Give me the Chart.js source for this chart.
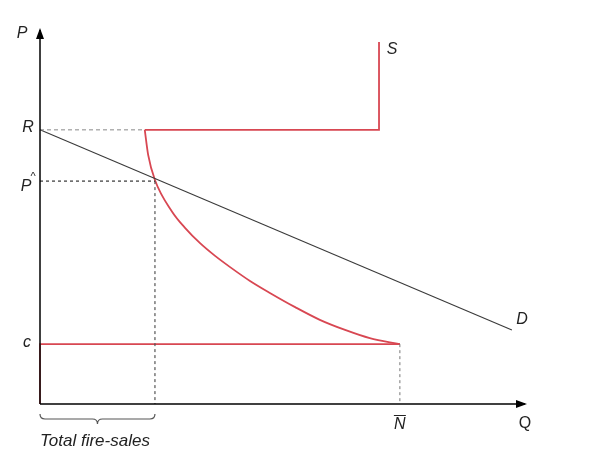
<!DOCTYPE html>
<html>
<head>
<meta charset="utf-8">
<script src="https://cdn.jsdelivr.net/npm/chart.js@4"></script>
<style>
    html, body { margin: 0; padding: 0; background: #fff; }
    #wrap { width: 600px; height: 464px; }
</style>
</head>
<body>
<div id="wrap"><canvas id="chart" width="600" height="464"></canvas></div>
<script>
// key levels (abstract units, 0..10 on both axes)
const priceR = 7.33;
const priceStar = 5.96;
const priceC = 1.6;
const qStar = 2.37;
const qBar = 7.42;
const qSupplyKink = 2.16;
const qSupplyCap = 6.99;
const supplyTop = 9.68;

// fire-sale supply curve between c and R
const curveQ = [2.16, 2.23, 2.37, 2.72, 2.99, 3.3, 3.61, 3.92, 4.33, 4.74, 5.26, 5.77, 6.29, 6.8, 7.42];
const curveP = [7.33, 6.66, 5.99, 5.15, 4.71, 4.3, 3.96, 3.66, 3.29, 2.97, 2.59, 2.25, 1.98, 1.76, 1.6];

// demand line end points
const demandQ = [0, 9.73];
const demandP = [7.33, 1.98];

const axisMax = 10;

const red = '#d84752';
const dark = '#3a3a3a';

function pts(xs, ys) {
    return xs.map(function (x, i) { return { x: x, y: ys[i] }; });
}

function lineSet(data, color, width, dash, extra) {
    return Object.assign({
        data: data,
        showLine: true,
        borderColor: color,
        borderWidth: width,
        borderDash: dash || [],
        pointRadius: 0,
        fill: false,
        clip: false,
        tension: 0
    }, extra || {});
}

const datasets = [
    // axes
    lineSet(pts([0, 0], [0, axisMax]), '#000', 1.5),
    lineSet(pts([0, axisMax], [0, 0]), '#000', 1.5),
    // guide lines
    lineSet(pts([0, qSupplyKink], [priceR, priceR]), '#888', 1, [4, 3]),
    lineSet(pts([0, qStar], [priceStar, priceStar]), '#333', 1.2, [3, 3]),
    lineSet(pts([qStar, qStar], [priceStar, 0]), '#555', 1.2, [3, 3]),
    lineSet(pts([qBar, qBar], [priceC, 0]), '#777', 1, [3, 3]),
    // demand
    lineSet(pts(demandQ, demandP), dark, 1.1),
    // supply
    lineSet(pts([0, 0, qBar], [0, priceC, priceC]), red, 1.6),
    lineSet(pts(curveQ, curveP), red, 1.8, [], { cubicInterpolationMode: 'monotone' }),
    lineSet(pts([qSupplyKink, qSupplyCap, qSupplyCap], [priceR, priceR, supplyTop]), red, 1.8)
];

const annotate = {
    id: 'annotate',
    afterDatasetsDraw: function (chart) {
        const ctx = chart.ctx;
        const xs = chart.scales.x;
        const ys = chart.scales.y;
        const px = function (v) { return xs.getPixelForValue(v); };
        const py = function (v) { return ys.getPixelForValue(v); };

        ctx.save();
        // arrow heads
        ctx.fillStyle = '#000';
        const ox = px(0), oy = py(0);
        const top = py(axisMax), right = px(axisMax);
        ctx.beginPath();
        ctx.moveTo(ox, top - 2);
        ctx.lineTo(ox - 4, top + 9);
        ctx.lineTo(ox + 4, top + 9);
        ctx.closePath();
        ctx.fill();
        ctx.beginPath();
        ctx.moveTo(right + 2, oy);
        ctx.lineTo(right - 9, oy - 4);
        ctx.lineTo(right - 9, oy + 4);
        ctx.closePath();
        ctx.fill();

        // brace under total fire-sales
        const b0 = px(0), b1 = px(qStar), bm = (b0 + b1) / 2;
        const by = oy + 15, bd = 5;
        ctx.strokeStyle = '#555';
        ctx.lineWidth = 1.2;
        ctx.beginPath();
        ctx.moveTo(b0, by - bd);
        ctx.quadraticCurveTo(b0, by, b0 + bd, by);
        ctx.lineTo(bm - bd, by);
        ctx.quadraticCurveTo(bm, by, bm, by + bd);
        ctx.quadraticCurveTo(bm, by, bm + bd, by);
        ctx.lineTo(b1 - bd, by);
        ctx.quadraticCurveTo(b1, by, b1, by - bd);
        ctx.stroke();

        // text labels
        ctx.fillStyle = '#222';
        ctx.textBaseline = 'middle';
        ctx.textAlign = 'center';
        const it = 'italic 16px "Liberation Sans", Arial, sans-serif';
        ctx.font = it;
        ctx.fillText('P', 22, top + 4);
        ctx.fillText('R', ox - 12, py(priceR) - 2);
        ctx.fillText('P', ox - 14, py(priceStar) + 5);
        ctx.font = '11px "Liberation Sans", Arial, sans-serif';
        ctx.fillText('^', ox - 7, py(priceStar) - 4);
        ctx.font = it;
        ctx.fillText('c', ox - 13, py(priceC) - 2);
        ctx.fillText('S', px(qSupplyCap) + 13, py(supplyTop) + 8);
        ctx.fillText('D', px(demandQ[1]) + 10, py(demandP[1]) - 10);
        ctx.fillText('N', px(qBar), oy + 21);
        ctx.fillRect(px(qBar) - 6, oy + 11, 12, 1);
        ctx.font = '16px "Liberation Sans", Arial, sans-serif';
        ctx.fillText('Q', right, oy + 20);
        ctx.textAlign = 'left';
        ctx.font = 'italic 17px "Liberation Sans", Arial, sans-serif';
        ctx.fillText('Total fire-sales', b0, oy + 37);
        ctx.restore();
    }
};

new Chart(document.getElementById('chart'), {
    type: 'scatter',
    data: { datasets: datasets },
    options: {
        responsive: false,
        animation: false,
        layout: { padding: { left: 40, right: 75, top: 30, bottom: 60 } },
        plugins: { legend: { display: false }, tooltip: { enabled: false } },
        scales: {
            x: { type: 'linear', min: 0, max: axisMax, display: false },
            y: { type: 'linear', min: 0, max: axisMax, display: false }
        }
    },
    plugins: [annotate]
});
</script>
</body>
</html>
